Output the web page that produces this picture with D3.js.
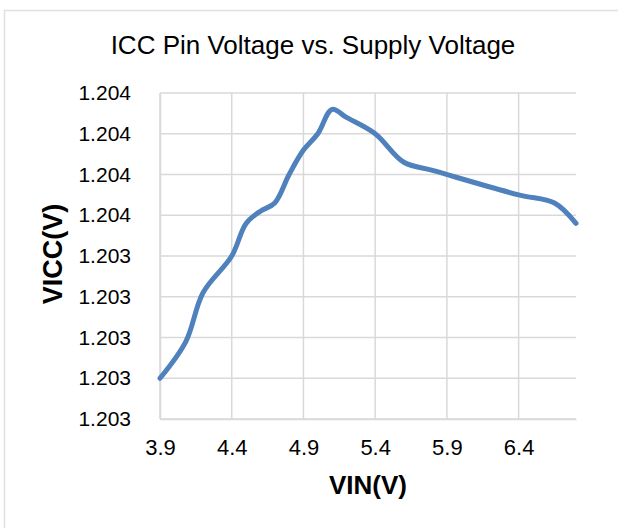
<!DOCTYPE html>
<html>
<head>
<meta charset="utf-8">
<script src="https://cdn.jsdelivr.net/npm/d3@7"></script>
<style>
  body { margin: 0; background: #fff; }
  text { font-family: "Liberation Sans", Arial, sans-serif; fill: #000; }
</style>
</head>
<body>
<div id="chart"></div>
<script>
var width = 618,
    height = 528;

// data
var vin  = [3.9, 4.08, 4.2, 4.4, 4.5, 4.6, 4.7, 4.8, 4.9, 5.0, 5.1, 5.2, 5.4, 5.6, 5.8, 6.4, 6.65, 6.8];
var vicc = [1.20310, 1.20319, 1.20331, 1.20340, 1.20348, 1.20351, 1.20353, 1.20360, 1.20366, 1.20370,
            1.20376, 1.20374, 1.20370, 1.20363, 1.20361, 1.20355, 1.20353, 1.20348];

var xTicks = [3.9, 4.4, 4.9, 5.4, 5.9, 6.4];
var yTicks = [1.2030, 1.2031, 1.2032, 1.2033, 1.2034, 1.2035, 1.2036, 1.2037, 1.2038];
var yTickLabels = ['1.203', '1.203', '1.203', '1.203', '1.203', '1.204', '1.204', '1.204', '1.204'];

var margin = {top: 93, right: 42, bottom: 109, left: 160};
var w = width - margin.left - margin.right,
    h = height - margin.top - margin.bottom;

var svg = d3.select('#chart').append('svg')
    .attr('width', width)
    .attr('height', height);

// chart frame
svg.append('rect')
    .attr('x', 4.5)
    .attr('y', 10.5)
    .attr('width', width + 20)
    .attr('height', height + 20)
    .attr('fill', 'none')
    .attr('stroke', '#e0e0e0')
    .attr('stroke-width', 1.5);

svg.append('text')
    .attr('x', 313)
    .attr('y', 54)
    .attr('text-anchor', 'middle')
    .style('font-size', '26px')
    .text('ICC Pin Voltage vs. Supply Voltage');

var g = svg.append('g')
    .attr('transform', 'translate(' + margin.left + ',' + margin.top + ')');

var x = d3.scaleLinear().domain([3.9, 6.8]).range([0, w]);
var y = d3.scaleLinear().domain([1.2030, 1.2038]).range([h, 0]);

// grid
g.append('g').selectAll('line')
    .data(yTicks)
    .enter().append('line')
    .attr('x1', 0).attr('x2', w)
    .attr('y1', function(d) { return y(d); })
    .attr('y2', function(d) { return y(d); })
    .attr('stroke', '#d9d9d9')
    .attr('stroke-width', 1.5);

g.append('g').selectAll('line')
    .data(xTicks)
    .enter().append('line')
    .attr('y1', 0).attr('y2', h)
    .attr('x1', function(d) { return x(d); })
    .attr('x2', function(d) { return x(d); })
    .attr('stroke', '#d9d9d9')
    .attr('stroke-width', 1.5);

// axes
var xAxis = g.append('g')
    .attr('transform', 'translate(0,' + h + ')')
    .call(d3.axisBottom(x).tickValues(xTicks).tickSize(0).tickPadding(20).tickFormat(d3.format('.1f')));
xAxis.select('.domain').attr('stroke', '#d9d9d9').attr('stroke-width', 1.5);
xAxis.selectAll('text').style('font-size', '22px').style('font-family', '"Liberation Sans", Arial, sans-serif');

var yAxis = g.append('g')
    .call(d3.axisLeft(y).tickValues(yTicks).tickSize(0).tickPadding(29)
        .tickFormat(function(d, i) { return yTickLabels[i]; }));
yAxis.select('.domain').attr('stroke', '#d9d9d9').attr('stroke-width', 1.5);
yAxis.selectAll('text').style('font-size', '21px').style('font-family', '"Liberation Sans", Arial, sans-serif');

// series
var line = d3.line()
    .x(function(d, i) { return x(vin[i]); })
    .y(function(d) { return y(d); })
    .curve(d3.curveCatmullRom.alpha(0.5));

g.append('path')
    .datum(vicc)
    .attr('d', line)
    .attr('fill', 'none')
    .attr('stroke', '#4f81bd')
    .attr('stroke-width', 5)
    .attr('stroke-linecap', 'round')
    .attr('stroke-linejoin', 'round');

// axis titles
svg.append('text')
    .attr('x', margin.left + w / 2)
    .attr('y', 494)
    .attr('text-anchor', 'middle')
    .style('font-size', '26px')
    .style('font-weight', 'bold')
    .text('VIN(V)');

svg.append('text')
    .attr('transform', 'translate(62,254) rotate(-90)')
    .attr('text-anchor', 'middle')
    .style('font-size', '27px')
    .style('font-weight', 'bold')
    .text('VICC(V)');
</script>
</body>
</html>
